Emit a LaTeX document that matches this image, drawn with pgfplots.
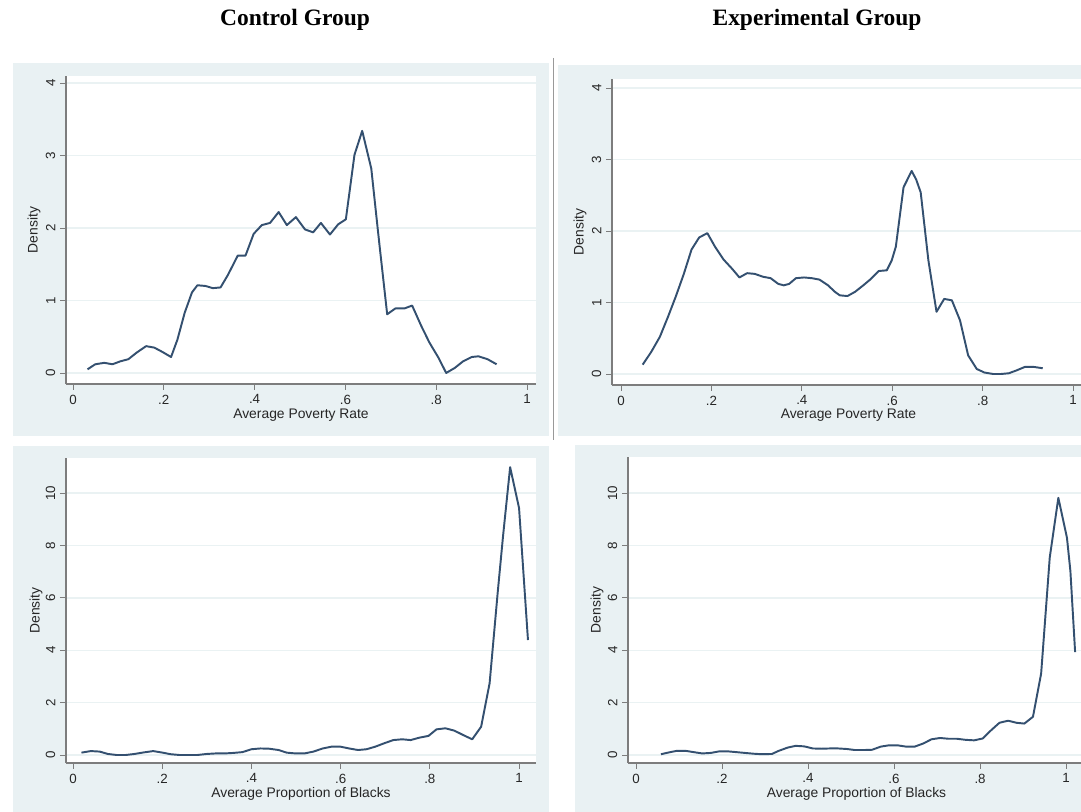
\documentclass[border=0pt]{standalone}
\usepackage{fontspec}
\setmainfont{Liberation Sans}
\newfontfamily\titlefont{Liberation Serif}
\usepackage{pgfplots}
\usepackage{pgfplotstable}
\pgfplotsset{compat=1.18}
\definecolor{panelbg}{RGB}{233,241,243}
\definecolor{gridc}{RGB}{234,242,243}
\definecolor{navyl}{RGB}{52,80,112}
\definecolor{axc}{RGB}{125,125,125}

\pgfplotstableread{
x y
0.032 0.05
0.049 0.12
0.069 0.14
0.087 0.12
0.104 0.16
0.122 0.19
0.140 0.28
0.161 0.37
0.179 0.35
0.197 0.29
0.216 0.22
0.230 0.46
0.246 0.83
0.262 1.11
0.274 1.21
0.292 1.20
0.308 1.17
0.325 1.18
0.341 1.35
0.363 1.62
0.380 1.62
0.398 1.92
0.416 2.04
0.434 2.07
0.453 2.22
0.471 2.04
0.491 2.15
0.511 1.98
0.529 1.94
0.546 2.07
0.566 1.91
0.584 2.05
0.601 2.12
0.620 3.01
0.637 3.34
0.657 2.82
0.672 1.94
0.692 0.81
0.710 0.89
0.730 0.89
0.747 0.93
0.767 0.65
0.785 0.42
0.805 0.21
0.822 0.00
0.841 0.07
0.859 0.16
0.878 0.22
0.893 0.23
0.913 0.19
0.933 0.12
}\ctrlpov

\pgfplotstableread{
x y
0.048 0.13
0.067 0.31
0.086 0.52
0.104 0.80
0.121 1.08
0.139 1.40
0.156 1.74
0.173 1.91
0.191 1.97
0.208 1.78
0.227 1.60
0.246 1.47
0.262 1.35
0.279 1.41
0.296 1.40
0.314 1.36
0.331 1.34
0.348 1.26
0.360 1.24
0.372 1.26
0.387 1.34
0.405 1.35
0.422 1.34
0.439 1.32
0.458 1.24
0.473 1.15
0.484 1.10
0.501 1.09
0.518 1.15
0.536 1.24
0.553 1.33
0.570 1.44
0.588 1.45
0.599 1.59
0.608 1.78
0.625 2.61
0.643 2.84
0.653 2.72
0.663 2.54
0.680 1.59
0.698 0.87
0.715 1.05
0.732 1.03
0.750 0.75
0.768 0.26
0.787 0.07
0.804 0.02
0.823 0.00
0.841 0.00
0.858 0.01
0.875 0.05
0.894 0.10
0.912 0.10
0.933 0.08
}\exppov

\pgfplotstableread{
x y
0.019 0.09
0.040 0.15
0.060 0.13
0.078 0.04
0.098 0.00
0.118 0.00
0.138 0.04
0.159 0.10
0.180 0.15
0.201 0.09
0.219 0.03
0.239 0.00
0.259 0.00
0.279 0.00
0.300 0.04
0.320 0.06
0.340 0.06
0.360 0.08
0.380 0.11
0.400 0.22
0.420 0.25
0.440 0.24
0.461 0.19
0.479 0.09
0.499 0.06
0.519 0.06
0.539 0.13
0.560 0.25
0.580 0.32
0.599 0.32
0.619 0.25
0.639 0.19
0.658 0.22
0.678 0.32
0.698 0.45
0.718 0.57
0.738 0.60
0.757 0.57
0.776 0.66
0.797 0.73
0.815 0.98
0.835 1.02
0.855 0.93
0.875 0.76
0.895 0.60
0.915 1.08
0.934 2.74
0.952 6.18
0.964 8.34
0.980 10.99
1.000 9.43
1.020 4.39
}\ctrlblk

\pgfplotstableread{
x y
0.058 0.03
0.077 0.10
0.095 0.16
0.115 0.16
0.134 0.11
0.154 0.06
0.174 0.08
0.194 0.14
0.213 0.14
0.233 0.11
0.253 0.08
0.273 0.05
0.292 0.03
0.316 0.04
0.332 0.16
0.352 0.28
0.371 0.35
0.391 0.33
0.411 0.25
0.431 0.24
0.450 0.25
0.470 0.25
0.490 0.23
0.509 0.19
0.529 0.19
0.549 0.20
0.569 0.32
0.588 0.37
0.608 0.37
0.628 0.32
0.648 0.32
0.668 0.44
0.687 0.60
0.707 0.65
0.727 0.62
0.746 0.62
0.766 0.58
0.786 0.56
0.806 0.63
0.826 0.95
0.845 1.23
0.865 1.31
0.885 1.23
0.903 1.20
0.923 1.46
0.942 3.11
0.962 7.54
0.982 9.82
1.002 8.30
1.010 7.03
1.021 3.93
}\expblk

\pgfplotsset{stata/.style={
  scale only axis, anchor=south west,
  axis background/.style={fill=white},
  axis x line*=bottom, axis y line*=left,
  axis line style={-, axc, line width=0.8pt},
  tick align=outside, major tick length=4.5pt,
  tick style={axc, line width=0.7pt},
  ymajorgrids, grid style={gridc, line width=1pt},
  xtick={0,0.2,0.4,0.6,0.8,1}, xticklabels={0,.2,.4,.6,.8,1},
  ticklabel style={font=\fontsize{10}{11}\selectfont, text=black!85},
  yticklabel style={rotate=90, anchor=south},
  label style={font=\fontsize{10.4}{11}\selectfont, text=black!85},
  ylabel={Density},
  clip=false,
  every axis plot post/.append style={navyl, line width=1.45pt, line join=round, mark=none},
}}

\begin{document}
\begin{tikzpicture}
\useasboundingbox (0,0) rectangle (810.75pt,609pt);
\clip (0,0) rectangle (810.75pt,609pt);
% panel backgrounds
\fill[panelbg] (9.75pt,282pt) rectangle (411.75pt,561.75pt);
\fill[panelbg] (418.5pt,282pt) rectangle (820pt,560.25pt);
\fill[panelbg] (9.75pt,-10pt) rectangle (411.75pt,274.5pt);
\fill[panelbg] (431.25pt,-10pt) rectangle (820pt,275.25pt);
\draw[black!40, line width=0.8pt] (415.1pt,565.5pt) -- (415.1pt,279pt);
% titles
\node[font=\titlefont\fontsize{17.6}{20}\selectfont\bfseries] at (221.25pt,594pt) {Control Group};
\node[font=\titlefont\fontsize{17.6}{20}\selectfont\bfseries] at (612.75pt,594pt) {Experimental Group};

% A: control, poverty
\begin{axis}[stata, at={(49.5pt,321pt)}, width=352.5pt, height=231pt,
  xmin=-0.0154, xmax=1.0198, ymin=-0.152, ymax=4.097,
  ytick={0,1,2,3,4}, yticklabels={0,1,2,3,4},
  xlabel={Average Poverty Rate},
  xlabel style={at={(axis description cs:0.5,-0.1)}, anchor=center},
  ylabel style={at={(axis description cs:-0.068,0.5)}, anchor=center}]
\addplot table {\ctrlpov};
\end{axis}

% B: experimental, poverty
\begin{axis}[stata, at={(459pt,320.25pt)}, width=354.75pt, height=229.5pt,
  xmin=-0.0199, xmax=1.0265, ymin=-0.154, ymax=4.126,
  ytick={0,1,2,3,4}, yticklabels={0,1,2,3,4},
  xlabel={Average Poverty Rate},
  xlabel style={at={(axis description cs:0.5,-0.098)}, anchor=center},
  ylabel style={at={(axis description cs:-0.0677,0.5)}, anchor=center}]
\addplot table {\exppov};
\end{axis}

% C: control, blacks
\begin{axis}[stata, at={(49.5pt,36.75pt)}, width=352.5pt, height=228.75pt,
  xmin=-0.0157, xmax=1.038, ymin=-0.305, ymax=11.34,
  ytick={0,2,4,6,8,10}, yticklabels={0,2,4,6,8,10},
  xlabel={Average Proportion of Blacks},
  xlabel style={at={(axis description cs:0.5,-0.1)}, anchor=center},
  ylabel style={at={(axis description cs:-0.064,0.5)}, anchor=center}]
\addplot table {\ctrlblk};
\end{axis}

% D: experimental, blacks
\begin{axis}[stata, at={(471pt,36.75pt)}, width=342.75pt, height=229.5pt,
  xmin=-0.0186, xmax=1.044, ymin=-0.305, ymax=11.38,
  ytick={0,2,4,6,8,10}, yticklabels={0,2,4,6,8,10},
  xlabel={Average Proportion of Blacks},
  xlabel style={at={(axis description cs:0.5,-0.1)}, anchor=center},
  ylabel style={at={(axis description cs:-0.068,0.5)}, anchor=center}]
\addplot table {\expblk};
\end{axis}
\end{tikzpicture}
\end{document}
